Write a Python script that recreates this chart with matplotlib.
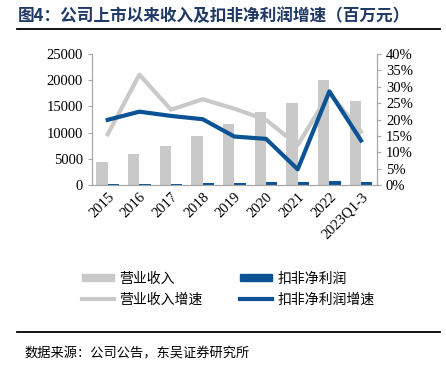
import numpy as np
import matplotlib.pyplot as plt
from matplotlib.patches import Patch
from matplotlib.lines import Line2D
from matplotlib.ticker import PercentFormatter

plt.rcParams['font.family'] = ['Noto Sans CJK SC', 'DejaVu Sans']

years = ['2015', '2016', '2017', '2018', '2019', '2020', '2021', '2022', '2023Q1-3']
revenue = [4450, 6000, 7450, 9400, 11600, 13950, 15700, 20100, 16000]
net_profit = [150, 250, 250, 400, 450, 500, 500, 700, 600]
revenue_growth = [15.5, 33.7, 23.0, 26.2, 23.3, 19.9, 12.2, 28.0, 16.3]
profit_growth = [19.9, 22.4, 21.1, 20.1, 14.8, 14.1, 4.8, 28.6, 13.6]

gray = '#c9c9c9'
blue = '#0b5394'
serif = 'Liberation Serif'

fig = plt.figure(figsize=(4.46, 3.65), dpi=100)
ax = fig.add_axes([0.206, 0.493, 0.639, 0.359])
ax2 = ax.twinx()

x = np.arange(len(years))
w = 0.36
ax.bar(x - w / 2, revenue, w, color=gray, zorder=2)
ax.bar(x + w / 2, net_profit, w, color=blue, zorder=2)
ax2.plot(x, revenue_growth, color=gray, lw=3)
ax2.plot(x, profit_growth, color=blue, lw=3)

ax.set_ylim(0, 25000)
ax.set_yticks(range(0, 25001, 5000))
ax2.set_ylim(0, 40)
ax2.set_yticks(range(0, 41, 5))
ax2.yaxis.set_major_formatter(PercentFormatter(decimals=0))
ax.set_xlim(-0.5, len(years) - 0.5)
ax.set_xticks(x)
ax.set_xticklabels(years, rotation=45, ha='right', rotation_mode='anchor')

for a in (ax, ax2):
    a.spines['top'].set_visible(False)
    for s in a.spines.values():
        s.set_color('#a6a6a6')
    a.tick_params(colors='#a6a6a6', labelcolor='black', length=3, labelsize=10.5)
    for lab in a.get_xticklabels() + a.get_yticklabels():
        lab.set_fontfamily(serif)
ax.tick_params(axis='x', length=0, pad=4)

# column-wise fill: bars on top row, growth lines below
handles = [
    Patch(color=gray, label='营业收入'),
    Line2D([], [], color=gray, lw=3, label='营业收入增速'),
    Patch(color=blue, label='扣非净利润'),
    Line2D([], [], color=blue, lw=3, label='扣非净利润增速'),
]
fig.legend(handles=handles, ncol=2, loc='upper left', bbox_to_anchor=(0.155, 0.29),
           frameon=False, fontsize=10, handlelength=2.3, handleheight=0.45,
           columnspacing=2.7, labelspacing=0.5, handletextpad=0.4)

fig.text(0.04, 0.957, '图4：公司上市以来收入及扣非净利润增速（百万元）', fontsize=12,
         fontweight='bold', color='#1f3864', va='center')
fig.add_artist(Line2D([0.038, 0.987], [0.92, 0.92], color='black', lw=1.3))
fig.add_artist(Line2D([0.038, 0.987], [0.09, 0.09], color='black', lw=1.3))
fig.text(0.055, 0.03, '数据来源：公司公告，东吴证券研究所', fontsize=9.5, va='center')

fig.savefig('out.png', dpi=100)
